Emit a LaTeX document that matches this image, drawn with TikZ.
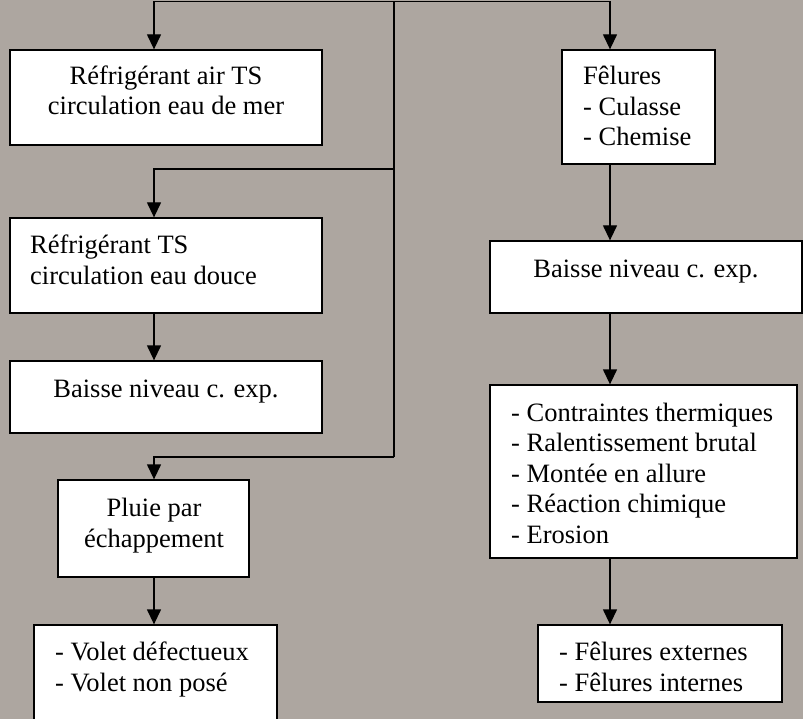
\documentclass[tikz,border=0pt]{standalone}
\usepackage{fontspec}
\setmainfont{Liberation Serif}
\usetikzlibrary{
  arrows.meta,
  positioning
}
\definecolor{fond}{RGB}{173,166,160}
\tikzset{
  box/.style = {draw, fill=white, line width=1.3pt, inner sep=0pt},
  txt/.style = {font=\fontsize{26.5}{30.5}\selectfont, inner sep=0pt},
  arr/.style = {-{Triangle[width=14pt,length=15pt]}, line width=1.3pt}
}
\begin{document}
\begin{tikzpicture}[x=1pt, y=-1pt]
    \useasboundingbox (0,0) rectangle (803,719);
    \clip (0,0) rectangle (803,719);
    \fill[fond] (0,0) rectangle (803,719);

    % columns of the arrows
    \coordinate (lx) at (154,0);
    \coordinate (rx) at (610,0);
    \coordinate (root) at (394,1.5);
    \coordinate (j1) at (394,169);
    \coordinate (j2) at (394,457);

    % left column
    \node[box, minimum width=312pt, minimum height=95pt] (mer) at (166,97.5) {};
    \node[box, minimum width=312pt, minimum height=95pt] (ts) at (166,265.5) {};
    \node[box, minimum width=312pt, minimum height=72pt] (bts) at (166,397) {};
    \node[box, minimum width=191pt, minimum height=97pt] (pluie) at (153.5,528.5) {};
    \node[box, minimum width=243pt, minimum height=115pt] (volet) at (155.5,682.5) {};

    % right column
    \node[box, minimum width=153pt, minimum height=114pt] (fel) at (638.5,107) {};
    \node[box, minimum width=312pt, minimum height=72pt] (bfel) at (646,277) {};
    \node[box, minimum width=307pt, minimum height=173pt] (causes) at (643.5,471.5) {};
    \node[box, minimum width=244pt, minimum height=77pt] (types) at (660,663.5) {};

    % texts (base = last line)
    \node[txt, anchor=base, align=center] (tmer) at (166,115)
        {Réfrigérant air TS\\circulation eau de mer};
    \node[txt, anchor=base west, align=left] (tts) at (30,284)
        {Réfrigérant TS\\circulation eau douce};
    \node[txt, anchor=base] (tbts) at (166,397.5) {Baisse niveau c. exp.};
    \node[txt, anchor=base, align=center] (tpluie) at (154,547)
        {Pluie par\\échappement};
    \node[txt, anchor=base west, align=left] (tvolet) at (55,691)
        {- Volet défectueux\\- Volet non posé};
    \node[txt, anchor=base west, align=left] (tfel) at (583,146)
        {Fêlures\\- Culasse\\- Chemise};
    \node[txt, anchor=base] (tbfel) at (646,277.5) {Baisse niveau c. exp.};
    \node[txt, anchor=base west, align=left] (tcauses) at (511,543)
        {- Contraintes thermiques\\- Ralentissement brutal\\- Montée en allure\\- Réaction chimique\\- Erosion};
    \node[txt, anchor=base west, align=left] (ttypes) at (559,691)
        {- Fêlures externes\\- Fêlures internes};

    % connectors
    \draw[line width=1.3pt] (root) -- (j2);
    \draw[arr] (root) -| (lx |- mer.north);
    \draw[arr] (root) -| (rx |- fel.north);
    \draw[arr] (j1) -| (lx |- ts.north);
    \draw[arr] (j2) -| (lx |- pluie.north);
    \draw[arr] (ts.south -| lx) -- (bts.north -| lx);
    \draw[arr] (pluie.south -| lx) -- (volet.north -| lx);
    \draw[arr] (fel.south -| rx) -- (bfel.north -| rx);
    \draw[arr] (bfel.south -| rx) -- (causes.north -| rx);
    \draw[arr] (causes.south -| rx) -- (types.north -| rx);
\end{tikzpicture}
\end{document}
